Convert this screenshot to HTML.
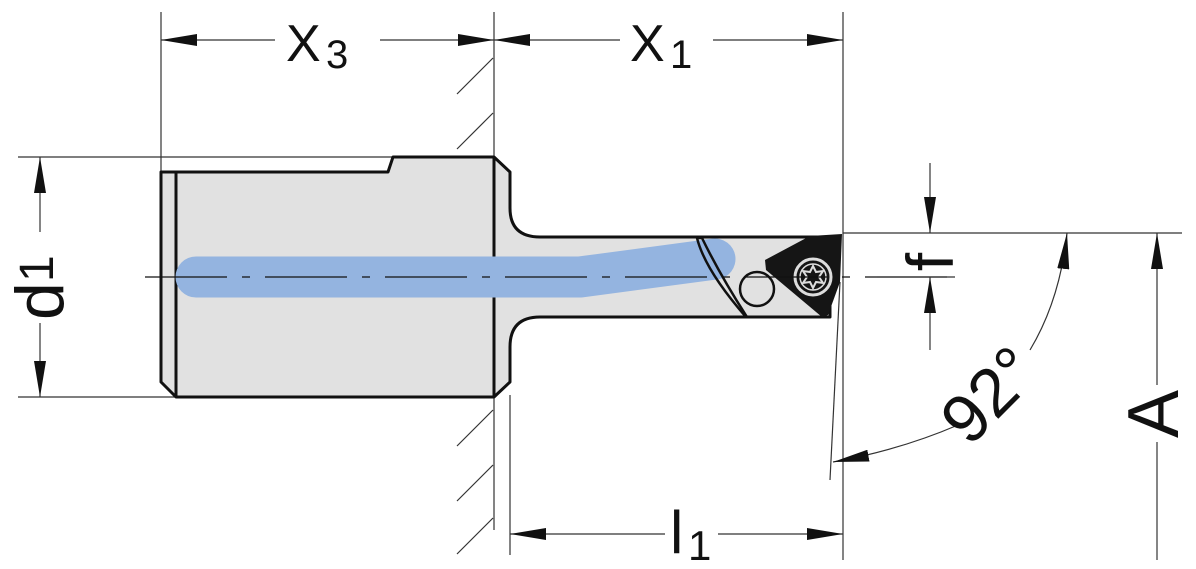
<!DOCTYPE html>
<html><head><meta charset="utf-8"><style>
html,body{margin:0;padding:0;background:#fff;width:1196px;height:569px;overflow:hidden}
svg{display:block}
text{font-family:"Liberation Sans",Arial,sans-serif;fill:#111}
</style></head><body>
<svg width="1196" height="569" viewBox="0 0 1196 569" xmlns="http://www.w3.org/2000/svg">
<defs>
<marker id="ar" viewBox="0 0 36 12" refX="36" refY="6" markerWidth="36" markerHeight="12" markerUnits="userSpaceOnUse" orient="auto-start-reverse"><path d="M0,0 L36,6 L0,12 Z" fill="#111"/></marker>
</defs>
<g stroke="#333" stroke-width="1.2" fill="none">
<line x1="161" y1="12" x2="161" y2="172"/>
<line x1="494" y1="12" x2="494" y2="530"/>
<line x1="843" y1="12" x2="843" y2="560"/>
<line x1="510" y1="395" x2="510" y2="555"/>
<line x1="18" y1="157" x2="494" y2="157"/>
<line x1="18" y1="397" x2="176" y2="397"/>
<line x1="843" y1="233" x2="1182" y2="233"/>
<line x1="840" y1="282" x2="830" y2="480"/>
<line x1="493" y1="58" x2="457" y2="94"/>
<line x1="493" y1="113" x2="457" y2="149"/>
<line x1="493" y1="410" x2="457" y2="446"/>
<line x1="493" y1="465" x2="457" y2="501"/>
<line x1="493" y1="518" x2="457" y2="554"/>
</g>
<g stroke="#111" stroke-width="3" fill="#e1e1e1" stroke-linejoin="round">
<path d="M161,172 L388,172 L393,157 L494,157 L510,172 L510,208 Q510,237 540,237 L830,237 L830,317 L540,317 Q510,317 510,347 L510,382 L494,397 L176,397 L161,382 Z"/>
<line x1="176" y1="172" x2="176" y2="397"/>
<line x1="494" y1="157" x2="494" y2="397"/>
</g>
<polyline points="196,277 580,277 715,259" fill="none" stroke="#94b4e0" stroke-width="41" stroke-linecap="round" stroke-linejoin="round"/>
<path d="M697,238 L702,238 Q720,275 747,317" fill="none" stroke="#111" stroke-width="2.5"/>
<path d="M697,238 Q705,270 746,317" fill="none" stroke="#111" stroke-width="2.5"/>
<circle cx="757" cy="289" r="17" fill="none" stroke="#111" stroke-width="2.5"/>
<path d="M765,260 L810,236 L842,234 L840,282 L828,315 L822,317 L766,270 Z" fill="#151515"/>
<circle cx="813" cy="277" r="18" fill="none" stroke="#ddd" stroke-width="3"/>
<circle cx="813" cy="277" r="13" fill="#151515" stroke="#ddd" stroke-width="1.5"/>
<path d="M813,266 L816,272 L823,271 L819,277 L823,283 L816,282 L813,288 L810,282 L803,283 L807,277 L803,271 L810,272 Z" fill="#151515" stroke="#ddd" stroke-width="2"/>
<line x1="145" y1="277" x2="955" y2="277" stroke="#111" stroke-width="1.3" stroke-dasharray="82,15,8,15"/>
<g stroke="#333" stroke-width="1.2" fill="none">
<line x1="161" y1="40" x2="275" y2="40" marker-start="url(#ar)"/>
<line x1="380" y1="40" x2="494" y2="40" marker-end="url(#ar)"/>
<line x1="494" y1="40" x2="620" y2="40" marker-start="url(#ar)"/>
<line x1="713" y1="40" x2="843" y2="40" marker-end="url(#ar)"/>
<line x1="510" y1="534" x2="665" y2="534" marker-start="url(#ar)"/>
<line x1="718" y1="534" x2="843" y2="534" marker-end="url(#ar)"/>
<line x1="40" y1="157" x2="40" y2="232" marker-start="url(#ar)"/>
<line x1="40" y1="323" x2="40" y2="397" marker-end="url(#ar)"/>
<line x1="930" y1="163" x2="930" y2="233" marker-end="url(#ar)"/>
<line x1="930" y1="350" x2="930" y2="277" marker-end="url(#ar)"/>
<line x1="877" y1="277" x2="955" y2="277"/>
<line x1="1157" y1="385" x2="1157" y2="233" marker-end="url(#ar)"/>
<line x1="1157" y1="442" x2="1157" y2="560"/>
<path d="M1030,350 Q1060,300 1067,233" marker-end="url(#ar)"/>
<path d="M958,425 Q900,450 833,462" marker-end="url(#ar)"/>
</g>
<text x="286" y="61" font-size="52">X</text><text x="326" y="68" font-size="40">3</text>
<text x="630" y="61" font-size="52">X</text><text x="670" y="68" font-size="40">1</text>
<text x="670" y="553" font-size="60">l</text><text x="688" y="560" font-size="42">1</text>
<g transform="translate(63,284) rotate(-90)"><text x="-36" y="0" font-size="68">d</text><text x="2" y="-10" font-size="48">1</text></g>
<g transform="translate(953,262) rotate(-90)"><text x="0" y="0" font-size="66" text-anchor="middle">f</text></g>
<g transform="translate(1178,414) rotate(-90)"><text x="0" y="0" font-size="72" text-anchor="middle">A</text></g>
<g transform="translate(990,396) rotate(-45)"><text x="0" y="22" font-size="68" text-anchor="middle">92°</text></g>
</svg>
</body></html>
